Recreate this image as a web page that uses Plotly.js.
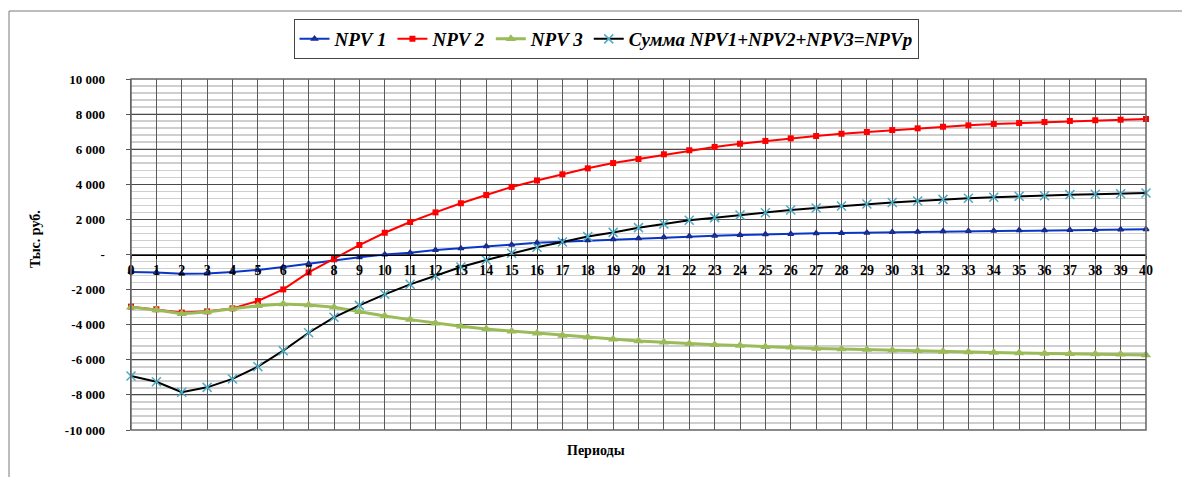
<!DOCTYPE html>
<html>
<head>
<meta charset="utf-8">
<script src="https://cdn.plot.ly/plotly-3.0.1.min.js"></script>
<style>
  html, body { margin: 0; padding: 0; background: #fff; }
  #chart { width: 1182px; height: 477px; }
</style>
</head>
<body>
<div id="chart"></div>
<script>
// ---- data ----
const periods = Array.from({length: 41}, (_, i) => i);

const npv1 = [-1000, -1020, -1090, -1080, -1000, -880, -710, -520, -330, -160,
  0, 100, 260, 350, 470, 560, 670, 730, 810, 870,
  920, 980, 1040, 1070, 1110, 1150, 1170, 1210, 1220, 1240,
  1280, 1300, 1320, 1340, 1360, 1380, 1380, 1400, 1400, 1420, 1440];

const npv2 = [-2970, -3120, -3310, -3240, -3070, -2650, -1990, -1020, -260, 540,
  1240, 1850, 2400, 2920, 3390, 3850, 4220, 4570, 4910, 5210,
  5440, 5710, 5940, 6130, 6310, 6470, 6620, 6750, 6880, 6980,
  7090, 7190, 7280, 7360, 7440, 7490, 7550, 7610, 7650, 7680, 7720];

const npv3 = [-3010, -3160, -3370, -3280, -3090, -2920, -2820, -2880, -3010, -3260,
  -3500, -3710, -3920, -4090, -4250, -4370, -4490, -4610, -4720, -4830,
  -4930, -5000, -5080, -5140, -5190, -5250, -5290, -5350, -5380, -5420,
  -5450, -5480, -5520, -5560, -5580, -5610, -5640, -5660, -5670, -5690, -5730];

const npvSum = [-6920, -7250, -7850, -7570, -7090, -6390, -5480, -4460, -3580, -2900,
  -2270, -1700, -1210, -710, -310, 70, 410, 710, 1020, 1260,
  1530, 1740, 1950, 2100, 2250, 2380, 2540, 2650, 2760, 2880,
  2960, 3050, 3140, 3200, 3260, 3320, 3350, 3410, 3430, 3460, 3500];

const seriesNames = ['NPV 1', 'NPV 2', 'NPV 3', 'Сумма NPV1+NPV2+NPV3=NPVp'];
const yTickVals = [-10000, -8000, -6000, -4000, -2000, 0, 2000, 4000, 6000, 8000, 10000];
const yTickText = ['-10 000', '-8 000', '-6 000', '-4 000', '-2 000', '-', '2 000', '4 000', '6 000', '8 000', '10 000'];
const yTitle = 'Тыс. руб.';
const xTitle = 'Периоды';

// ---- traces ----
const serif = 'Liberation Serif';
const traces = [
  { x: periods, y: npv1, name: seriesNames[0], mode: 'lines+markers', cliponaxis: false,
    line: { color: '#0a36c8', width: 2 },
    marker: { symbol: 'triangle-up-open', size: 5, color: '#1a2a8a', line: { width: 1.5, color: '#1a2a8a' } } },
  { x: periods, y: npv2, name: seriesNames[1], mode: 'lines+markers', cliponaxis: false,
    line: { color: '#ff0000', width: 2 },
    marker: { symbol: 'square', size: 6, color: '#ff0000' } },
  { x: periods, y: npv3, name: seriesNames[2], mode: 'lines+markers', cliponaxis: false,
    line: { color: '#9bbb59', width: 3 },
    marker: { symbol: 'triangle-up', size: 9, color: '#9bbb59' } },
  { x: periods, y: npvSum, name: seriesNames[3], mode: 'lines+markers', cliponaxis: false,
    line: { color: '#000000', width: 2 },
    marker: { symbol: 'x-thin-open', size: 9, color: '#4bacc6', line: { width: 1.5, color: '#4bacc6' } } }
];

const L = 131, R = 1146, T = 79, B = 430, W = 1182, H = 477;
const px = v => (v - L) / (R - L);
const py = v => (B - v) / (B - T);

const layout = {
  width: W, height: H,
  margin: { l: L, r: W - R, t: T, b: H - B, pad: 0 },
  paper_bgcolor: '#ffffff',
  plot_bgcolor: '#ffffff',
  font: { family: serif, color: '#000', size: 13, weight: 'bold' },
  showlegend: true,
  legend: {
    orientation: 'h', x: px(606), xanchor: 'center', y: py(19), yanchor: 'top',
    bordercolor: '#444', borderwidth: 1, bgcolor: '#fff',
    font: { family: serif, size: 19, style: 'italic', weight: 'bold', color: '#000' },
    itemwidth: 30, tracegroupgap: 0
  },
  xaxis: {
    range: [0, 40], dtick: 1, tick0: 0,
    anchor: 'free', position: 0.5,
    showline: true, linecolor: '#000', linewidth: 1,
    ticks: 'outside', ticklen: 3, tickcolor: '#000',
    showgrid: true, gridcolor: '#5a5a5a', gridwidth: 1,
    zeroline: false,
    tickfont: { family: serif, size: 14, weight: 'bold', color: '#000' },
    fixedrange: true
  },
  yaxis: {
    range: [-10000, 10000],
    tickmode: 'array', tickvals: yTickVals, ticktext: yTickText,
    showline: true, linecolor: '#555', linewidth: 1.5,
    ticks: 'outside', ticklen: 4, tickcolor: '#555',
    ticklabelstandoff: 18,
    showgrid: true, gridcolor: '#4a4a4a', gridwidth: 1,
    minor: { dtick: 400, tick0: 0, showgrid: true, gridcolor: '#cfcfcf', gridwidth: 1.5 },
    zeroline: false,
    tickfont: { family: serif, size: 13, weight: 'bold', color: '#000' },
    fixedrange: true
  },
  annotations: [
    { text: xTitle, xref: 'paper', yref: 'paper', x: px(596), y: py(450),
      xanchor: 'center', yanchor: 'middle', showarrow: false,
      font: { family: serif, size: 14, weight: 'bold', color: '#000' } },
    { text: yTitle, xref: 'paper', yref: 'paper', x: px(35), y: py(239), textangle: -90,
      xanchor: 'center', yanchor: 'middle', showarrow: false,
      font: { family: serif, size: 14, weight: 'bold', color: '#000' } }
  ],
  shapes: [
    { type: 'rect', xref: 'paper', yref: 'paper', x0: 0, x1: 1, y0: 0, y1: 1,
      line: { color: '#666', width: 1.5 }, layer: 'above' },
    { type: 'rect', xref: 'paper', yref: 'paper', x0: px(9), x1: px(1200), y0: py(500), y1: py(11),
      line: { color: '#7a7a7a', width: 1 }, layer: 'below' }
  ]
};

Plotly.newPlot('chart', traces, layout, { staticPlot: true, displayModeBar: false });
</script>
</body>
</html>
